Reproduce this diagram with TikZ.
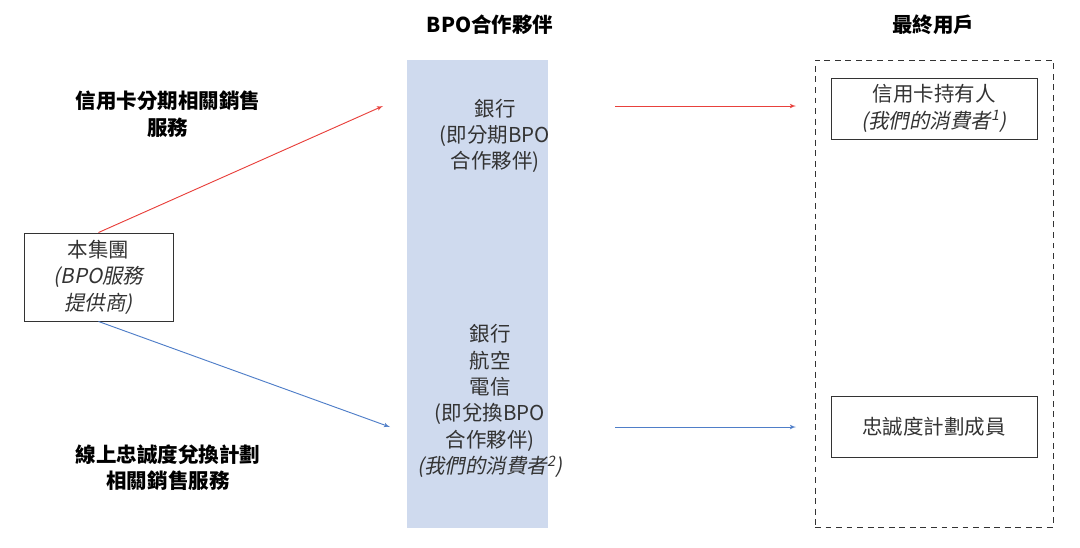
\documentclass[tikz,border=0pt]{standalone}
\usepackage{fontspec}
\setmainfont{Noto Sans CJK TC}
\newfontfamily\cjkit[FakeSlant=0.2]{Noto Sans CJK TC}
\usepackage{tikz}
\usetikzlibrary{arrows, positioning}
\definecolor{partnerblue}{HTML}{CFDAEE}
\definecolor{flowred}{HTML}{E8413C}
\definecolor{flowblue}{HTML}{4F7EC8}
\definecolor{textgray}{HTML}{333333}

\begin{document}
\begin{tikzpicture}[x=0.03cm, y=-0.03cm, >=latex', font=\fontsize{17.5}{22.5}\selectfont]
    % stili
    \tikzstyle{box} = [draw=textgray, line width=0.8pt, rectangle, align=center, text=textgray]
    \tikzstyle{txt} = [align=center, text=textgray]
    \tikzstyle{heading} = [align=center, font=\fontsize{17.5}{22.5}\selectfont\bfseries]
    \tikzstyle{redline} = [->, flowred, line width=0.8pt]
    \tikzstyle{blueline} = [->, flowblue, line width=0.8pt]

    \useasboundingbox (0,0) rectangle (1080,547);

    % colonne
    \node [fill=partnerblue, minimum width=4.23cm, minimum height=14.04cm] (partners) at (477.5,294) {};
    \node [draw=textgray, dash pattern=on 5pt off 4pt, line width=0.8pt, minimum width=7.14cm, minimum height=14.01cm] (users) at (934,293.5) {};

    % titoli
    \node [heading] (ptitle) at (490,25) {BPO合作夥伴};
    \node [heading] (utitle) at (933,25) {最終用戶};
    \node [heading] (instlabel) at (168,114) {信用卡分期相關銷售\\服務};
    \node [heading] (loylabel) at (168,468) {線上忠誠度兌換計劃\\相關銷售服務};

    % nodi
    \node [box, minimum width=4.47cm, minimum height=2.64cm] (group) at (98.5,277) {本集團\\{\cjkit (BPO服務}\\{\cjkit 提供商)}};
    \node [txt] (bank) at (495,136) {銀行\\(即分期BPO\\合作夥伴)};
    \node [txt] (redeem) at (490,401) {銀行\\航空\\電信\\(即兌換BPO\\合作夥伴)\\{\cjkit (我們的消費者\textsuperscript{2})}};
    \node [box, minimum width=6.18cm, minimum height=1.83cm] (holders) at (934,108.5) {信用卡持有人\\{\cjkit (我們的消費者\textsuperscript{1})}};
    \node [box, minimum width=6.18cm, minimum height=1.83cm] (members) at (934,426.5) {忠誠度計劃成員};

    % estremi delle frecce
    \coordinate (redin) at (383,106);
    \coordinate (redout) at (615,106);
    \coordinate (redend) at (796,106);
    \coordinate (bluein) at (390,427);
    \coordinate (blueout) at (615,427);
    \coordinate (blueend) at (796,427);

    % collegamenti
    \draw [redline] (group.north) -- (redin);
    \draw [redline] (redout) -- (redend);
    \draw [blueline] (group.south) -- (bluein);
    \draw [blueline] (blueout) -- (blueend);

\end{tikzpicture}
\end{document}
